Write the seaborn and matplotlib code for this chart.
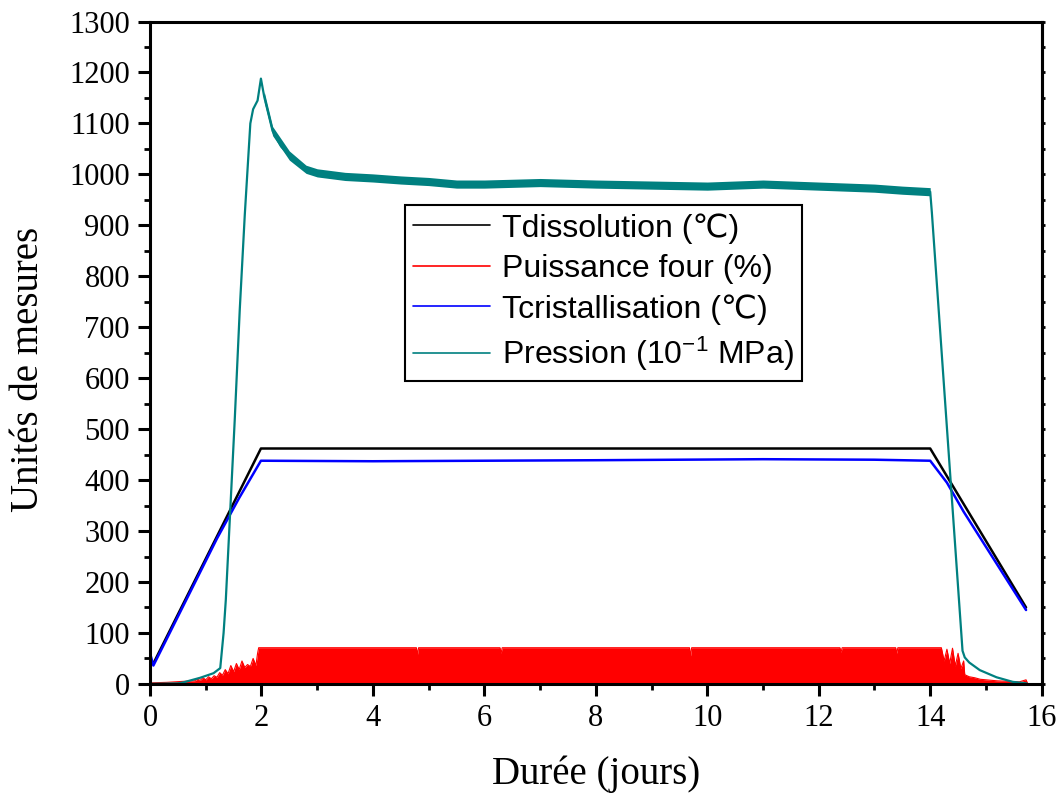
import numpy as np
import pandas as pd
import matplotlib
matplotlib.use("Agg")
import matplotlib.pyplot as plt
import seaborn as sns
import matplotlib.ticker as ticker

# --- données ---
# Tdissolution (noir)
t_diss_jour = [0.06, 1.99, 14.0, 15.72]
t_diss_val = [40, 462, 462, 150]

# Tcristallisation (bleu)
t_crist_jour = [0.0, 0.06, 1.2, 1.6, 1.99, 4.0, 8.0, 11.0, 13.0, 14.0, 14.3, 14.6, 15.72]
t_crist_val = [60, 36, 285, 365, 438, 437, 439, 441, 440, 438, 395, 338, 145]

# Puissance four (rouge), enveloppe haute
puis_jour = [0.0, 0.01, 0.3, 0.6, 0.8, 0.85, 0.9, 0.95, 1.0, 1.05, 1.1, 1.15, 1.2,
             1.25, 1.3, 1.35, 1.4, 1.45, 1.5, 1.55, 1.6, 1.65, 1.7, 1.75, 1.8,
             1.85, 1.9, 1.93, 1.95, 4.78, 4.8, 4.82, 6.28, 6.3, 6.32, 9.68, 9.7,
             9.72, 12.38, 12.4, 12.42, 13.38, 13.4, 13.42, 14.2, 14.25, 14.3,
             14.35, 14.4, 14.45, 14.5, 14.55, 14.6, 14.62, 14.7, 14.8, 14.9,
             15.0, 15.2, 15.4, 15.6, 15.72, 15.75]
puis_val = [62, 2, 3, 5, 6, 9, 7, 12, 8, 14, 10, 16, 13,
            22, 17, 28, 20, 36, 24, 40, 28, 45, 32, 38, 34,
            50, 36, 60, 71, 71, 58, 71, 71, 60, 71, 71, 55,
            71, 71, 62, 71, 71, 60, 71, 71, 45, 68,
            40, 70, 35, 60, 30, 45, 18, 14, 12, 9,
            8, 6, 5, 4, 8, 0]

# Pression (cyan foncé), courbe moyenne
pres_jour = [0.0, 0.5, 0.6, 0.9, 1.14, 1.26, 1.32, 1.36, 1.52, 1.61, 1.7, 1.8,
             1.85, 1.93, 1.99, 2.05, 2.2, 2.35, 2.5, 2.8, 3.0, 3.5, 4.0, 4.5,
             5.0, 5.5, 6.0, 7.0, 8.0, 9.0, 10.0, 11.0, 12.0, 13.0, 13.5, 14.0,
             14.03, 14.58, 14.62, 14.7, 14.89, 15.19, 15.48, 15.73]
pres_val = [0, 1, 3, 12, 21, 31, 100, 165, 518, 734, 920, 1100,
            1128, 1145, 1188, 1152, 1085, 1055, 1037, 1010, 1003, 996, 993, 989,
            986, 981, 981, 984, 981, 979, 977, 981, 977, 973, 969, 966,
            925, 65, 52, 42, 27, 13, 4, 1]

# bruit de la pression : bande basse / haute
bande_jour = [2.05, 2.2, 2.5, 2.8, 3.0, 3.5, 4.0, 4.5, 5.0, 5.5, 6.0, 7.0,
              8.0, 9.0, 10.0, 11.0, 12.0, 13.0, 13.5, 14.0]
bande_bas = [1142, 1076, 1028, 1002, 995, 988, 985, 981, 978, 973, 973, 976,
             973, 971, 969, 973, 969, 965, 961, 958]
bande_haut = [1162, 1094, 1046, 1018, 1011, 1004, 1001, 997, 994, 989, 989, 992,
              989, 987, 985, 989, 985, 981, 977, 974]

teal = "#008080"

# --- style ---
sns.set_style("ticks")
plt.rcParams["font.family"] = ["Liberation Serif", "DejaVu Serif"]
plt.rcParams["mathtext.fontset"] = "custom"
plt.rcParams["mathtext.rm"] = "Liberation Sans"
plt.rcParams["mathtext.default"] = "regular"
for k in ["text.color", "axes.labelcolor", "xtick.color", "ytick.color", "axes.edgecolor"]:
    plt.rcParams[k] = "black"

fig = plt.figure(figsize=(10.64, 7.98), dpi=100)
ax = fig.add_axes([0.141, 0.143, 0.838, 0.830])

sns.lineplot(x=t_diss_jour, y=t_diss_val, color="black", lw=1.8, ax=ax,
             label="Tdissolution (\u2103)")
sns.lineplot(x=puis_jour, y=puis_val, color="red", lw=0.8, ax=ax,
             label="Puissance four (%)")
ax.fill_between(puis_jour, 0, puis_val, color="red", lw=0)
sns.lineplot(x=t_crist_jour, y=t_crist_val, color="blue", lw=1.8, ax=ax,
             label="Tcristallisation (\u2103)")
ax.fill_between(bande_jour, bande_bas, bande_haut, color=teal, lw=0)
sns.lineplot(x=pres_jour, y=pres_val, color=teal, lw=1.6, ax=ax,
             label="Pression (10$^{-1}$ MPa)")

# --- axes ---
ax.set_xlim(0, 16)
ax.set_ylim(0, 1300)
ax.xaxis.set_major_locator(ticker.MultipleLocator(2))
ax.xaxis.set_minor_locator(ticker.MultipleLocator(1))
ax.yaxis.set_major_locator(ticker.MultipleLocator(100))
ax.yaxis.set_minor_locator(ticker.MultipleLocator(50))

for s in ax.spines.values():
    s.set_visible(True)
    s.set_linewidth(2.2)

ax.tick_params(axis="both", which="major", direction="out", length=8.5,
               width=2.2, labelsize=22, pad=6)
ax.tick_params(axis="both", which="minor", direction="out", length=4.5,
               width=2.0)

# petites graduations sur l'axe de droite
droite = ax.secondary_yaxis("right")
droite.yaxis.set_major_locator(ticker.MultipleLocator(50))
droite.tick_params(axis="y", direction="out", length=2.5, width=2.0, labelright=False)
droite.spines["right"].set_linewidth(2.2)

ax.set_xlabel("Durée (jours)", fontsize=28, labelpad=16)
ax.set_ylabel("Unités de mesures", fontsize=28)
ax.yaxis.set_label_coords(-0.115, 0.475)

leg = ax.legend(loc="upper left", bbox_to_anchor=(0.286, 0.723),
                prop={"family": ["Liberation Sans", "DejaVu Sans"], "size": 23},
                frameon=True, fancybox=False, shadow=False, framealpha=1,
                edgecolor="black", handlelength=2.4, handletextpad=0.4,
                labelspacing=0.32, borderpad=0.25, borderaxespad=0)
leg.get_frame().set_linewidth(1.5)
for h in leg.get_lines():
    h.set_linewidth(1.2)

fig.savefig("out.png", dpi=100)
